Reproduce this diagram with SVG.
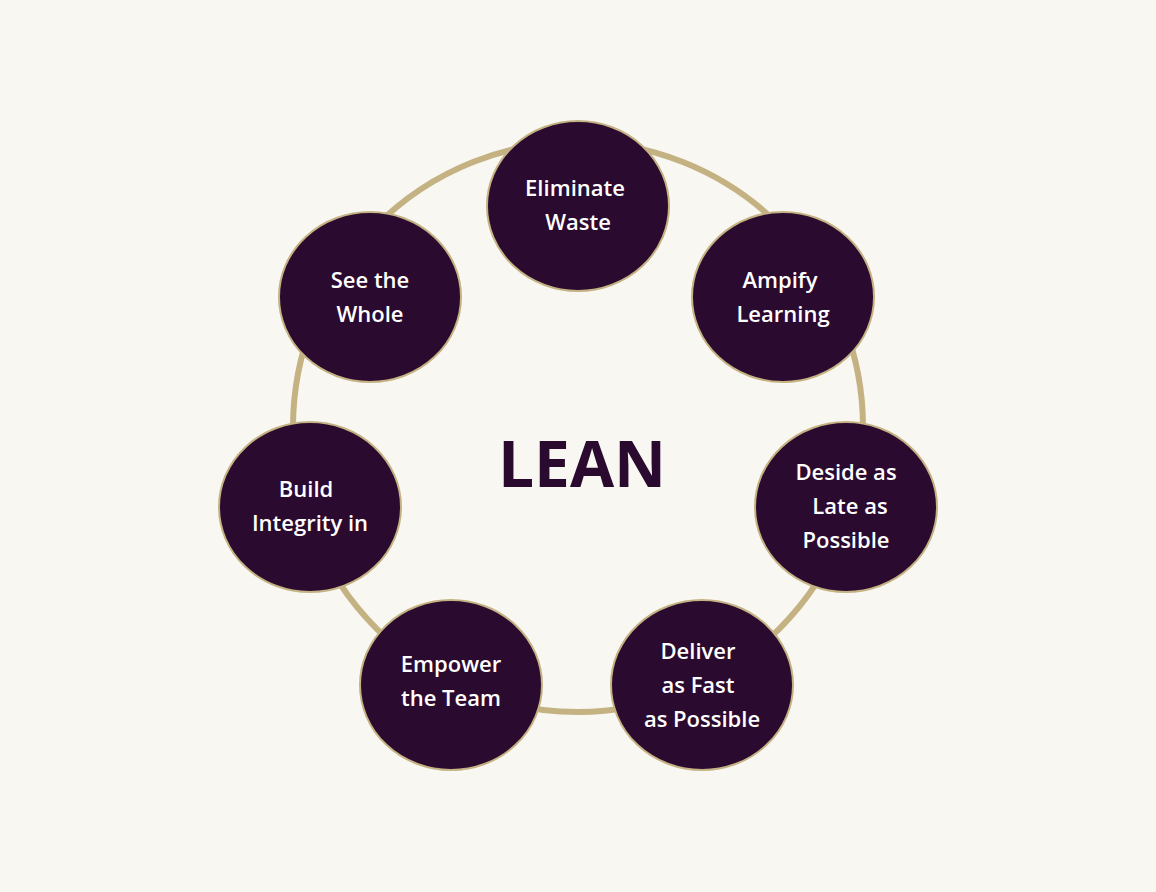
<svg xmlns="http://www.w3.org/2000/svg" width="1156" height="892" viewBox="0 0 1156 892">
<style>
.n{fill:#2b0a2f;stroke:#c4b283;stroke-width:2}
.t{fill:#ffffff;font-family:"Open Sans",sans-serif;font-size:22px;font-weight:600;text-anchor:middle}
</style>
<rect width="1156" height="892" fill="#f8f7f2"/>
<g id="connectors"><circle cx="578" cy="427" r="285" fill="none" stroke="#c4b283" stroke-width="6"/></g>
<text x="582" y="487" font-family="'Open Sans',sans-serif" font-size="64" font-weight="700" fill="#2b0a2f" text-anchor="middle">LEAN</text>
<g id="n1"><ellipse class="n" cx="578" cy="206" rx="91" ry="85"/><text class="t" x="575" y="196">Eliminate</text><text class="t" x="578" y="230">Waste</text></g>
<g id="n2"><ellipse class="n" cx="783" cy="297" rx="91" ry="85"/><text class="t" x="780" y="288">Ampify</text><text class="t" x="783" y="322">Learning</text></g>
<g id="n3"><ellipse class="n" cx="846" cy="507" rx="91" ry="85"/><text class="t" x="846" y="480">Deside as</text><text class="t" x="850" y="514">Late as</text><text class="t" x="846" y="548">Possible</text></g>
<g id="n4"><ellipse class="n" cx="702" cy="685" rx="91" ry="85"/><text class="t" x="698" y="659">Deliver</text><text class="t" x="698" y="693">as Fast</text><text class="t" x="702" y="727">as Possible</text></g>
<g id="n5"><ellipse class="n" cx="451" cy="685" rx="91" ry="85"/><text class="t" x="451" y="672">Empower</text><text class="t" x="451" y="706">the Team</text></g>
<g id="n6"><ellipse class="n" cx="310" cy="507" rx="91" ry="85"/><text class="t" x="306" y="497">Build</text><text class="t" x="310" y="531">Integrity in</text></g>
<g id="n7"><ellipse class="n" cx="370" cy="297" rx="91" ry="85"/><text class="t" x="370" y="288">See the</text><text class="t" x="370" y="322">Whole</text></g>
</svg>
